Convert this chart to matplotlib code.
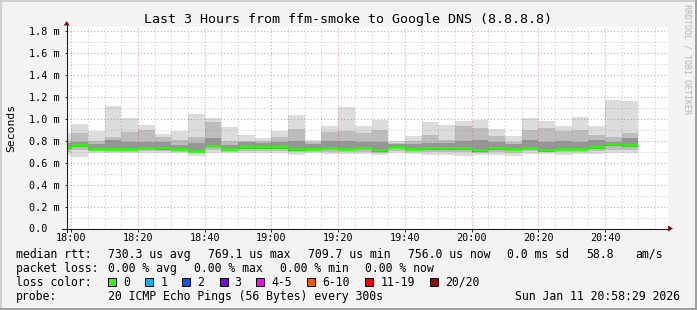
#!/usr/bin/env python3
import numpy as np
import matplotlib
matplotlib.use('Agg')
import matplotlib.pyplot as plt
from matplotlib.lines import Line2D
from matplotlib.patches import Polygon, Rectangle

## Smoke data, one entry per 5 minute bin (values in ms)
bin_times = ["17:55", "18:00", "18:05", "18:10", "18:15", "18:20", "18:25",
             "18:30", "18:35", "18:40", "18:45", "18:50", "18:55", "19:00",
             "19:05", "19:10", "19:15", "19:20", "19:25", "19:30", "19:35",
             "19:40", "19:45", "19:50", "19:55", "20:00", "20:05", "20:10",
             "20:15", "20:20", "20:25", "20:30", "20:35", "20:40", "20:45"]
max_ms = [0.870, 0.950, 0.890, 1.115, 1.003, 0.943, 0.862, 0.890, 1.043,
          1.003, 0.924, 0.852, 0.825, 0.890, 1.037, 0.806, 0.933, 1.110,
          0.933, 0.988, 0.800, 0.842, 0.970, 0.943, 0.982, 0.991, 0.906,
          0.842, 1.006, 0.982, 0.933, 1.015, 0.933, 1.170, 1.161]
p80_ms = [0.810, 0.867, 0.800, 0.837, 0.880, 0.900, 0.835, 0.806, 0.836,
          0.970, 0.800, 0.800, 0.800, 0.836, 0.906, 0.790, 0.882, 0.889,
          0.870, 0.900, 0.780, 0.800, 0.852, 0.810, 0.930, 0.912, 0.840,
          0.790, 0.897, 0.912, 0.888, 0.897, 0.852, 0.837, 0.867]
p60_ms = [0.775, 0.785, 0.765, 0.806, 0.790, 0.790, 0.790, 0.760, 0.780,
          0.820, 0.760, 0.790, 0.775, 0.790, 0.800, 0.770, 0.800, 0.800,
          0.785, 0.790, 0.765, 0.770, 0.780, 0.780, 0.800, 0.810, 0.785,
          0.765, 0.806, 0.790, 0.800, 0.790, 0.806, 0.790, 0.820]
median_ms = [0.742, 0.757, 0.727, 0.727, 0.727, 0.733, 0.733, 0.724, 0.710,
             0.755, 0.727, 0.745, 0.738, 0.742, 0.724, 0.724, 0.736, 0.727,
             0.736, 0.712, 0.745, 0.727, 0.730, 0.730, 0.733, 0.712, 0.730,
             0.727, 0.736, 0.712, 0.727, 0.727, 0.745, 0.769, 0.756]
p40_ms = [0.725, 0.740, 0.715, 0.712, 0.713, 0.720, 0.718, 0.712, 0.698,
          0.738, 0.714, 0.728, 0.722, 0.726, 0.710, 0.712, 0.720, 0.712,
          0.720, 0.700, 0.730, 0.713, 0.714, 0.715, 0.718, 0.700, 0.715,
          0.712, 0.720, 0.700, 0.712, 0.713, 0.728, 0.748, 0.740]
p20_ms = [0.700, 0.712, 0.703, 0.700, 0.700, 0.703, 0.705, 0.700, 0.685,
          0.712, 0.700, 0.708, 0.705, 0.705, 0.695, 0.700, 0.700, 0.697,
          0.700, 0.690, 0.708, 0.698, 0.695, 0.697, 0.695, 0.688, 0.697,
          0.692, 0.703, 0.693, 0.697, 0.698, 0.705, 0.715, 0.712]
min_ms = [0.670, 0.654, 0.690, 0.685, 0.685, 0.685, 0.690, 0.685, 0.660,
          0.690, 0.685, 0.690, 0.685, 0.685, 0.670, 0.685, 0.680, 0.677,
          0.680, 0.670, 0.685, 0.680, 0.670, 0.670, 0.664, 0.670, 0.665,
          0.660, 0.680, 0.680, 0.670, 0.675, 0.680, 0.685, 0.685]

## Axis labels
x_tick_labels = ["18:00", "18:20", "18:40", "19:00", "19:20", "19:40",
                 "20:00", "20:20", "20:40"]
y_tick_values = [0.0, 0.2, 0.4, 0.6, 0.8, 1.0, 1.2, 1.4, 1.6, 1.8]

## Legend texts
title = 'Last 3 Hours from ffm-smoke to Google DNS (8.8.8.8)'
rtt_stats = ['730.3 us avg', '769.1 us max', '709.7 us min', '756.0 us now',
             '0.0 ms sd', '58.8', 'am/s']
loss_stats = ['0.00 % avg', '0.00 % max', '0.00 % min', '0.00 % now']
loss_labels = ['0', '1', '2', '3', '4-5', '6-10', '11-19', '20/20']
loss_colors = ['#26ff00', '#00b8ff', '#0059ff', '#7e00ff', '#ff00ff',
               '#ff5500', '#ff0000', '#a10000']
probe_text = '20 ICMP Echo Pings (56 Bytes) every 300s'
date_text = 'Sun Jan 11 20:58:29 2026'

plt.rcParams['font.family'] = 'DejaVu Sans Mono'

W, H = 697, 310
def fx(px): return px / W
def fy(py): return 1 - py / H
def to_min(s): return (int(s[:2]) - 18) * 60 + int(s[3:])

t = np.array([to_min(s) for s in bin_times], float)

fig = plt.figure(figsize=(W / 100, H / 100), dpi=100, facecolor='#f3f3f3')
ax = fig.add_axes([fx(66.7), fy(228.5), fx(668) - fx(66.7),
                   fy(27) - fy(228.5)])
ax.set_facecolor('white')
ax.set_xlim(-1.38, 178.87)
ax.set_ylim(0, 1.835)

## smoke layers
layers = [(min_ms, max_ms, '#dcdcdc'),
          (p20_ms, p80_ms, '#bdbdbd'),
          (p40_ms, p60_ms, '#969696'),
          (p40_ms, median_ms, '#5e5e5e')]
for lo, hi, col in layers:
    lo = np.array(lo); hi = np.array(hi)
    ax.bar(t, hi - lo, bottom=lo, width=5, align='edge', color=col,
           linewidth=0, zorder=1)

## median, drawn per bin without connectors
ax.hlines(median_ms, t, t + 5, colors='#26ff00', lw=1.8, zorder=4,
          capstyle='butt')

## grid and ticks
ax.set_xticks([to_min(s) for s in x_tick_labels], x_tick_labels)
ax.set_xticks(np.arange(0, 180, 5), minor=True)
ax.set_yticks(y_tick_values,
              ['0.0\u00a0\u00a0' if v == 0 else '%.1f m' % v
               for v in y_tick_values])
ax.set_yticks(np.arange(0.1, 1.85, 0.1), minor=True)
ax.grid(which='major', color='#e05050', alpha=0.55, ls=(0, (1, 2)), lw=0.8)
ax.grid(which='minor', color='#8f8f8f', alpha=0.45, ls=(0, (1, 2)), lw=0.8)
ax.set_axisbelow(False)
ax.tick_params(which='minor', length=0)
ax.tick_params(axis='x', which='major', length=1.8, width=0.7,
               color='#202020', pad=1.2, labelsize=7.3)
ax.tick_params(axis='y', which='major', length=1.8, width=0.7,
               color='#202020', pad=3.0, labelsize=7.3)
for s in ax.spines.values():
    s.set_visible(False)

## axes lines with arrows
fig.add_artist(Line2D([fx(62), fx(668)], [fy(228.5), fy(228.5)],
                      color='#202020', lw=0.8))
fig.add_artist(Line2D([fx(66.7), fx(66.7)], [fy(232), fy(25)],
                      color='#202020', lw=0.8))
fig.add_artist(Polygon([(fx(63.7), fy(25.5)), (fx(69.7), fy(25.5)),
                        (fx(66.7), fy(21))], closed=True,
                       transform=fig.transFigure, color='#801010', lw=0))
fig.add_artist(Polygon([(fx(668), fy(225.5)), (fx(668), fy(231.5)),
                        (fx(673), fy(228.5))], closed=True,
                       transform=fig.transFigure, color='#801010', lw=0))

## texts
fig.text(fx(347.5), fy(19), title, ha='center', va='center', fontsize=9.6)
fig.text(fx(11), fy(128), 'Seconds', rotation=90, ha='center',
         va='center', fontsize=8.2)
fig.text(fx(687), fy(4), 'RRDTOOL / TOBI OETIKER', rotation=270,
         ha='center', va='top', fontsize=6, color='#b4b4b4')

fs = 8.3
row_y = [254.3, 268.3, 282.3, 296.3]
fig.text(fx(16), fy(row_y[0]), 'median rtt:', va='center', fontsize=fs)
for txt, px in zip(rtt_stats, [107.6, 207.6, 307.6, 407.6, 507.3, 586, 635]):
    fig.text(fx(px), fy(row_y[0]), txt, va='center', fontsize=fs)
fig.text(fx(16), fy(row_y[1]), 'packet loss:', va='center', fontsize=fs)
for txt, px in zip(loss_stats, [107.6, 194.2, 280, 365.3]):
    fig.text(fx(px), fy(row_y[1]), txt, va='center', fontsize=fs)
fig.text(fx(16), fy(row_y[2]), 'loss color:', va='center', fontsize=fs)
box_x = [108, 145.3, 182.2, 219.6, 256.4, 307.1, 365.3, 430.2]
for lab, col, px in zip(loss_labels, loss_colors, box_x):
    fig.add_artist(Rectangle((fx(px), fy(286.3)), 8 / W, 8 / H,
                             transform=fig.transFigure, facecolor=col,
                             edgecolor='black', lw=0.7))
    fig.text(fx(px + 15), fy(row_y[2]), lab, va='center', fontsize=fs)
fig.text(fx(16), fy(row_y[3]), 'probe:', va='center', fontsize=fs)
fig.text(fx(107.6), fy(row_y[3]), probe_text, va='center', fontsize=fs)
fig.text(fx(680), fy(row_y[3]), date_text, ha='right', va='center',
         fontsize=fs)

## 3d frame
fig.add_artist(Line2D([0, 1], [fy(0.7), fy(0.7)], color='#cfcfcf', lw=1.4))
fig.add_artist(Line2D([fx(0.7), fx(0.7)], [0, 1], color='#cfcfcf', lw=1.4))
fig.add_artist(Line2D([0, 1], [fy(309.3), fy(309.3)], color='#9e9e9e',
                      lw=1.4))
fig.add_artist(Line2D([fx(696.3), fx(696.3)], [0, 1], color='#9e9e9e',
                      lw=1.4))

plt.savefig('out.png', dpi=100, facecolor=fig.get_facecolor())
